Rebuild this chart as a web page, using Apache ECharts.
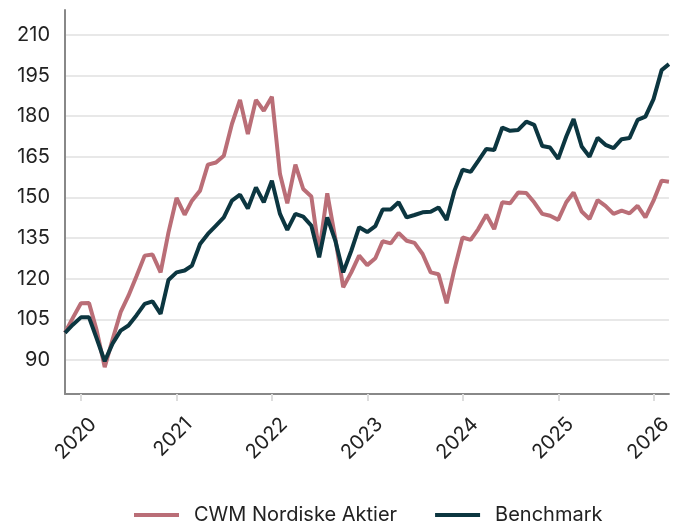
<!DOCTYPE html>
<html><head><meta charset="utf-8">
<script src="https://cdn.jsdelivr.net/npm/echarts@6/dist/echarts.min.js"></script>
<style>html,body{margin:0;padding:0;background:#fff}#c{width:675px;height:521px}</style>
</head><body><div id="c"></div>
<script>
const months = [
 '2019-10-31','2019-11-30','2019-12-31',
 '2020-01-31','2020-02-29','2020-03-31','2020-04-30','2020-05-31','2020-06-30','2020-07-31','2020-08-31','2020-09-30','2020-10-31','2020-11-30','2020-12-31',
 '2021-01-31','2021-02-28','2021-03-31','2021-04-30','2021-05-31','2021-06-30','2021-07-31','2021-08-31','2021-09-30','2021-10-31','2021-11-30','2021-12-31',
 '2022-01-31','2022-02-28','2022-03-31','2022-04-30','2022-05-31','2022-06-30','2022-07-31','2022-08-31','2022-09-30','2022-10-31','2022-11-30','2022-12-31',
 '2023-01-31','2023-02-28','2023-03-31','2023-04-30','2023-05-31','2023-06-30','2023-07-31','2023-08-31','2023-09-30','2023-10-31','2023-11-30','2023-12-31',
 '2024-01-31','2024-02-29','2024-03-31','2024-04-30','2024-05-31','2024-06-30','2024-07-31','2024-08-31','2024-09-30','2024-10-31','2024-11-30','2024-12-31',
 '2025-01-31','2025-02-28','2025-03-31','2025-04-30','2025-05-31','2025-06-30','2025-07-31','2025-08-31','2025-09-30','2025-10-31','2025-11-30','2025-12-31',
 '2026-01-31','2026-02-28'
];
const fundName = 'CWM Nordiske Aktier';
const benchName = 'Benchmark';
const fund = [
 100,105.5,110.9,
 111,101,87.3,97.5,107.6,113.7,121,128.5,128.9,122.3,137,149.8,
 143.6,148.8,152.5,162.1,162.9,165.4,177.1,186,173.4,186,182,187.2,
 158.6,147.8,162.1,153.1,150.3,129.7,151.5,134.7,116.8,122.3,128.5,125,
 127.5,133.8,133,136.9,134,133.2,129.1,122.3,121.6,110.9,123.6,135.2,
 134.3,138.3,143.6,138.3,148.2,147.8,151.8,151.6,148.2,143.9,143.2,141.7,
 148.2,151.8,144.8,142,149,146.9,143.9,145.1,144.1,146.9,142.6,148.8,
 156.2,155.8
];
const bench = [
 100,103,105.7,
 105.7,98,89.5,96,100.8,102.7,106.5,110.7,111.6,107,119.5,122.3,
 123,124.8,132.8,136.5,139.6,142.6,148.8,151,145.9,153.7,148.2,156.2,
 143.9,138,143.9,142.9,139.6,127.9,142.6,134,122.3,130.3,139,137.2,
 139.4,145.5,145.5,148.2,142.6,143.5,144.5,144.7,146.3,141.7,152.5,160.2,
 159.4,163.5,167.9,167.5,175.8,174.6,174.9,178,176.8,169,168.4,164.2,
 172.5,178.9,168.8,165,172,169.4,168.2,171.5,171.9,178.6,179.8,186.3,
 197,199.2
];
const yTicks = [90,105,120,135,150,165,180,195,210];

const FONT = 'Inter';
const chart = echarts.init(document.getElementById('c'), null, {renderer:'canvas'});
chart.setOption({
  animation:false,
  backgroundColor:'#fff',
  grid:{left:65,right:0,top:10,bottom:127,containLabel:false},
  legend:{
    top:500, left:129, itemWidth:45, itemHeight:4, itemGap:38,
    icon:'rect',
    textStyle:{fontFamily:FONT,fontSize:20,color:'#222',padding:[0,0,0,10]},
    data:[fundName, benchName]
  },
  xAxis:{
    type:'time',
    min: months[0], max: months[months.length-1],
    minInterval: 365*24*3600*1000,
    axisLine:{show:true,lineStyle:{color:'#888',width:2}},
    axisTick:{show:true,length:7,lineStyle:{color:'#ddd',width:2}},
    splitLine:{show:false},
    axisLabel:{rotate:45,fontFamily:FONT,fontSize:20,color:'#222',margin:15,
      padding:[34,0,0,0],
      formatter:'{yyyy}', showMinLabel:false, showMaxLabel:false}
  },
  yAxis:{
    type:'value', min:77.4, max:219.2,
    axisLine:{show:true,lineStyle:{color:'#888',width:2}},
    axisTick:{show:false, customValues: yTicks},
    splitLine:{show:true,lineStyle:{color:'#e8e8e8',width:2}},
    axisLabel:{customValues: yTicks, fontFamily:FONT,fontSize:20,color:'#222',margin:15}
  },
  series:[
    {name:fundName,type:'line',showSymbol:false,data:months.map((d,i)=>[d,fund[i]]),
     lineStyle:{width:4,color:'#ba6e77'},itemStyle:{color:'#ba6e77'}},
    {name:benchName,type:'line',showSymbol:false,data:months.map((d,i)=>[d,bench[i]]),
     lineStyle:{width:4,color:'#0c3640'},itemStyle:{color:'#0c3640'}}
  ]
});
</script></body></html>
